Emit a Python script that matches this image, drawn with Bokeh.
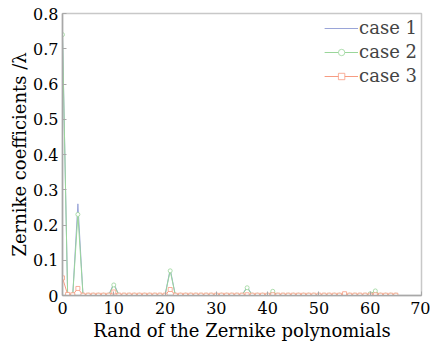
from bokeh.plotting import figure
from bokeh.embed import file_html
from bokeh.resources import INLINE
from bokeh.models import FixedTicker, NumeralTickFormatter, Range1d

n_terms = list(range(66))

case1 = [0.74, 0.002, 0.002, 0.26, 0.001, 0.001, 0.001, 0.001, 0.001, 0.001,
         0.035, 0.001, 0.001, 0.001, 0.001, 0.001, 0.001, 0.001, 0.001, 0.001,
         0.001, 0.075, 0.001, 0.001, 0.001, 0.001, 0.001, 0.001, 0.001, 0.001,
         0.001, 0.001, 0.001, 0.001, 0.001, 0.001, 0.025, 0.001, 0.001, 0.001,
         0.001, 0.010, 0.001, 0.001, 0.001, 0.001, 0.001, 0.001, 0.001, 0.001,
         0.001, 0.001, 0.001, 0.001, 0.001, 0.002, 0.001, 0.001, 0.001, 0.001,
         0.004, 0.006, 0.001, 0.001, 0.001, 0.001]

case2 = [0.74, 0.002, 0.002, 0.23, 0.001, 0.001, 0.001, 0.001, 0.001, 0.001,
         0.030, 0.001, 0.001, 0.001, 0.001, 0.001, 0.001, 0.001, 0.001, 0.001,
         0.001, 0.070, 0.001, 0.001, 0.001, 0.001, 0.001, 0.001, 0.001, 0.001,
         0.001, 0.001, 0.001, 0.001, 0.001, 0.001, 0.022, 0.001, 0.001, 0.001,
         0.001, 0.012, 0.001, 0.001, 0.001, 0.001, 0.001, 0.001, 0.001, 0.001,
         0.001, 0.001, 0.001, 0.001, 0.001, 0.002, 0.001, 0.001, 0.001, 0.001,
         0.005, 0.013, 0.001, 0.001, 0.001, 0.001]

case3 = [0.050, 0.003, 0.002, 0.020, 0.001, 0.001, 0.001, 0.001, 0.001, 0.001,
         0.010, 0.001, 0.001, 0.001, 0.001, 0.001, 0.001, 0.001, 0.001, 0.001,
         0.001, 0.017, 0.001, 0.001, 0.001, 0.001, 0.001, 0.001, 0.001, 0.001,
         0.001, 0.001, 0.001, 0.001, 0.001, 0.001, 0.002, 0.001, 0.001, 0.001,
         0.001, 0.002, 0.001, 0.001, 0.001, 0.001, 0.001, 0.001, 0.001, 0.001,
         0.001, 0.001, 0.001, 0.001, 0.001, 0.005, 0.001, 0.001, 0.001, 0.001,
         0.001, 0.002, 0.001, 0.001, 0.001, 0.001]

x_ticks = [0, 10, 20, 30, 40, 50, 60, 70]
y_ticks = [0, 0.1, 0.2, 0.3, 0.4, 0.5, 0.6, 0.7, 0.8]

FONT = "DejaVu Serif"
c1, c2, c3 = "#9aa5d8", "#9ad69a", "#f79c82"

p = figure(width=430, height=347, output_backend="svg", toolbar_location=None,
           x_range=Range1d(0, 70), y_range=Range1d(0, 0.8),
           min_border_left=62, min_border_right=9, min_border_top=13, min_border_bottom=52)
p.xgrid.visible = False
p.ygrid.visible = False
p.outline_line_color = "#c8c8c8"
p.outline_line_width = 1.5
p.background_fill_color = "white"
p.border_fill_color = "white"

p.line(n_terms, case1, color=c1, line_width=1, legend_label="case 1")
p.line(n_terms, case2, color=c2, line_width=1, legend_label="case 2")
p.scatter(n_terms, case2, marker="circle", size=4, line_color=c2, fill_color="white",
          line_width=0.8, legend_label="case 2")
p.line(n_terms, case3, color=c3, line_width=1, legend_label="case 3")
p.scatter(n_terms, case3, marker="square", size=4, line_color=c3, fill_color="white",
          line_width=0.8, legend_label="case 3")

for ax in (p.xaxis[0], p.yaxis[0]):
    ax.axis_line_color = "#a8a8a8"
    ax.axis_line_width = 1.5
    ax.major_tick_line_color = "#a8a8a8"
    ax.major_tick_in = 4
    ax.major_tick_out = 0
    ax.minor_tick_line_color = None
    ax.major_label_text_font = FONT
    ax.major_label_text_font_size = "16px"
    ax.major_label_text_color = "black"
    ax.axis_label_text_font = FONT
    ax.axis_label_text_font_size = "18px"
    ax.axis_label_text_font_style = "normal"
    ax.axis_label_text_color = "black"

p.xaxis.ticker = FixedTicker(ticks=x_ticks)
p.yaxis.ticker = FixedTicker(ticks=y_ticks)
p.yaxis.formatter = NumeralTickFormatter(format="0.[0]")
p.xaxis.axis_label = "Rand of the Zernike polynomials"
p.yaxis.axis_label = "Zernike coefficients /λ"
p.xaxis.major_label_standoff = 6
p.yaxis.major_label_standoff = 4
p.xaxis.axis_label_standoff = 3
p.yaxis.axis_label_standoff = 0

p.legend.location = "top_right"
p.legend.background_fill_alpha = 0
p.legend.border_line_color = None
p.legend.label_text_font = FONT
p.legend.label_text_font_size = "18px"
p.legend.glyph_width = 34
p.legend.glyph_height = 16
p.legend.label_standoff = 1
p.legend.spacing = 3
p.legend.padding = 4
p.legend.margin = 4
p.legend.label_height = 18

open("out.html", "w").write(file_html(p, INLINE))
